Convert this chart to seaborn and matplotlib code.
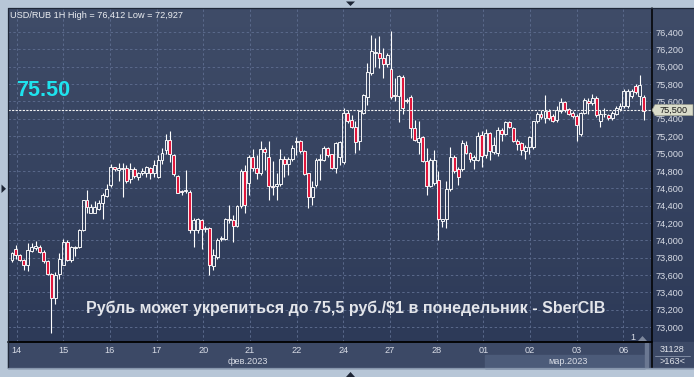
import numpy as np
import matplotlib
matplotlib.use("Agg")
import matplotlib.pyplot as plt
import seaborn as sns
from matplotlib.colors import LinearSegmentedColormap
from matplotlib.patches import Rectangle, Polygon
from matplotlib.lines import Line2D

# ---------------- data ----------------
opens = [73.77, 73.90, 73.83, 73.77, 73.72, 73.88, 73.91, 73.92, 73.87, 73.76,
         73.61, 73.34, 73.61, 73.72, 73.98, 73.77, 73.91, 73.92, 74.12, 74.46,
         74.32, 74.32, 74.36, 74.43, 74.51, 74.64, 74.84, 74.81, 74.83, 74.83,
         74.71, 74.82, 74.73, 74.78, 74.78, 74.83, 74.77, 74.73, 74.93, 75.04,
         75.16, 74.98, 74.74, 74.57, 74.57, 74.56, 74.12, 74.12, 74.23, 74.13,
         74.14, 73.70, 73.81, 74.01, 74.01, 74.24, 74.23, 74.17, 74.39, 74.80,
         74.66, 74.96, 74.83, 74.77, 75.05, 74.96, 74.63, 74.63, 74.65, 74.94,
         74.88, 74.94, 75.13, 75.14, 75.03, 74.77, 74.50, 74.64, 74.92, 74.93,
         75.06, 74.99, 74.83, 74.96, 74.90, 75.47, 75.39, 75.30, 75.14, 75.47,
         75.65, 75.93, 76.16, 76.16, 76.10, 76.03, 75.97, 75.67, 75.66, 75.88,
         75.62, 75.65, 75.29, 75.13, 75.19, 74.91, 74.63, 74.66, 74.70, 74.22,
         74.24, 74.59, 74.96, 74.82, 74.82, 75.10, 75.01, 74.93, 74.93, 75.21,
         74.98, 75.24, 75.02, 75.01, 75.27, 75.23, 75.36, 75.29, 75.15, 75.12,
         75.03, 75.08, 75.08, 75.37, 75.46, 75.41, 75.49, 75.43, 75.39, 75.49,
         75.59, 75.51, 75.47, 75.43, 75.22, 75.47, 75.60, 75.58, 75.64, 75.37,
         75.45, 75.44, 75.41, 75.46, 75.51, 75.55, 75.55, 75.66, 75.78, 75.66,
         75.65]
highs = [73.87, 73.95, 73.84, 73.78, 73.97, 73.97, 73.99, 73.95, 73.89, 73.77,
         73.62, 73.63, 73.85, 74.01, 74.00, 73.93, 73.93, 74.13, 74.47, 74.58,
         74.42, 74.45, 74.46, 74.54, 74.65, 74.88, 74.85, 74.89, 74.89, 74.87,
         74.89, 74.84, 74.79, 74.83, 74.86, 74.85, 74.93, 74.98, 75.06, 75.23,
         75.26, 75.00, 74.75, 74.58, 74.81, 74.58, 74.26, 74.26, 74.25, 74.16,
         74.15, 73.90, 74.03, 74.05, 74.26, 74.41, 74.29, 74.41, 74.82, 74.87,
         74.98, 75.05, 74.98, 75.14, 75.07, 75.14, 74.91, 74.77, 75.05, 74.97,
         74.96, 75.10, 75.19, 75.16, 75.04, 74.78, 74.68, 74.95, 75.00, 75.09,
         75.07, 75.00, 75.13, 75.14, 75.52, 75.50, 75.44, 75.37, 75.50, 75.68,
         76.04, 76.37, 76.33, 76.35, 76.21, 76.16, 76.41, 75.87, 75.91, 75.90,
         75.64, 75.67, 75.39, 75.37, 75.20, 75.06, 74.95, 75.04, 74.80, 74.25,
         74.68, 75.08, 74.98, 74.84, 75.16, 75.14, 75.02, 74.98, 75.25, 75.26,
         75.28, 75.25, 75.19, 75.30, 75.29, 75.37, 75.38, 75.31, 75.17, 75.13,
         75.10, 75.20, 75.38, 75.48, 75.50, 75.67, 75.51, 75.45, 75.55, 75.64,
         75.61, 75.53, 75.49, 75.45, 75.48, 75.64, 75.64, 75.69, 75.66, 75.50,
         75.52, 75.46, 75.49, 75.55, 75.58, 75.74, 75.74, 75.74, 75.80, 75.90,
         75.67]
lows = [73.75, 73.79, 73.76, 73.66, 73.65, 73.87, 73.89, 73.85, 73.74, 73.60,
        72.93, 73.27, 73.56, 73.72, 73.76, 73.75, 73.82, 73.91, 74.11, 74.31,
        74.31, 74.31, 74.35, 74.24, 74.50, 74.62, 74.80, 74.68, 74.50, 74.66,
        74.66, 74.72, 74.70, 74.75, 74.73, 74.71, 74.73, 74.72, 74.88, 75.00,
        74.90, 74.74, 74.54, 74.52, 74.55, 74.09, 73.92, 74.09, 73.90, 74.10,
        73.60, 73.66, 73.79, 73.99, 74.00, 74.20, 73.98, 74.15, 74.37, 74.31,
        74.52, 74.80, 74.71, 74.75, 74.81, 74.46, 74.52, 74.47, 74.63, 74.73,
        74.75, 74.91, 74.98, 75.01, 74.75, 74.37, 74.41, 74.62, 74.70, 74.91,
        74.96, 74.82, 74.77, 74.87, 74.88, 75.35, 75.29, 75.01, 75.04, 75.45,
        75.56, 75.90, 76.00, 75.98, 75.87, 76.00, 75.63, 75.61, 75.36, 75.46,
        75.58, 75.18, 75.14, 75.00, 74.90, 74.52, 74.61, 74.64, 74.00, 74.15,
        74.14, 74.57, 74.78, 74.64, 74.80, 74.99, 74.90, 74.82, 74.91, 74.85,
        74.95, 74.93, 75.00, 74.97, 75.15, 75.21, 75.29, 75.13, 75.04, 74.98,
        74.94, 74.99, 75.05, 75.35, 75.40, 75.35, 75.39, 75.36, 75.36, 75.47,
        75.48, 75.44, 75.41, 75.15, 75.20, 75.45, 75.46, 75.56, 75.42, 75.31,
        75.42, 75.39, 75.39, 75.44, 75.49, 75.53, 75.53, 75.64, 75.69, 75.56,
        75.39]
closes = [73.85, 73.83, 73.77, 73.72, 73.89, 73.92, 73.93, 73.86, 73.76, 73.61,
          73.34, 73.60, 73.79, 73.98, 73.77, 73.92, 73.92, 74.12, 74.46, 74.38,
          74.38, 74.38, 74.43, 74.52, 74.59, 74.85, 74.82, 74.83, 74.82, 74.68,
          74.82, 74.74, 74.77, 74.80, 74.84, 74.78, 74.87, 74.93, 75.01, 75.16,
          75.00, 74.76, 74.55, 74.56, 74.58, 74.12, 74.23, 74.24, 74.13, 74.14,
          73.72, 73.83, 74.00, 74.03, 74.24, 74.23, 74.17, 74.40, 74.80, 74.41,
          74.96, 74.83, 74.77, 75.05, 75.02, 74.63, 74.62, 74.65, 74.94, 74.88,
          74.94, 75.06, 75.14, 75.03, 74.76, 74.50, 74.61, 74.93, 74.94, 75.06,
          74.98, 74.83, 75.12, 75.13, 75.47, 75.37, 75.31, 75.13, 75.49, 75.67,
          75.94, 76.18, 76.17, 76.10, 76.03, 76.14, 75.65, 75.66, 75.89, 75.52,
          75.61, 75.29, 75.16, 75.18, 74.91, 74.63, 74.93, 74.93, 74.24, 74.24,
          74.59, 74.96, 74.80, 74.73, 75.12, 75.01, 74.94, 74.96, 75.20, 74.97,
          75.24, 75.03, 75.10, 75.27, 75.22, 75.36, 75.31, 75.15, 75.11, 75.04,
          75.08, 75.19, 75.37, 75.46, 75.42, 75.49, 75.41, 75.38, 75.50, 75.59,
          75.50, 75.46, 75.43, 75.33, 75.47, 75.62, 75.58, 75.64, 75.44, 75.45,
          75.46, 75.41, 75.47, 75.53, 75.55, 75.72, 75.72, 75.72, 75.71, 75.79,
          75.49]
day_labels = ["14", "15", "16", "17", "20", "21", "22", "24", "27", "28",
              "01", "02", "03", "06"]
y_ticks = [73.0, 73.2, 73.4, 73.6, 73.8, 74.0, 74.2, 74.4, 74.6, 74.8,
           75.0, 75.2, 75.4, 75.6, 75.8, 76.0, 76.2, 76.4]
month_labels = ["фев.2023", "мар.2023"]
header = "USD/RUB 1H High = 76,412 Low = 72,927"
last_price = 75.50
big_label = "75.50"
headline = "Рубль может укрепиться до 75,5 руб./$1 в понедельник - SberCIB"
bar_count = "31128"
bar_visible = ">163<"

# ---------------- styling ----------------
sns.set_theme(style="dark")
plt.rcParams['font.family'] = ['Liberation Sans', 'DejaVu Sans']

W, H = 694, 377
fig = plt.figure(figsize=(W / 100, H / 100), dpi=100)
fig.patch.set_facecolor('#b7c6d7')


def box(x0, y0, x1, y1):
    return [x0 / W, 1 - y1 / H, (x1 - x0) / W, (y1 - y0) / H]


def fx(px):
    return px / W


def fy(py):
    return 1 - py / H


# gradient background behind plot + right axis panel
bg = fig.add_axes(box(8, 8, 694, 342), zorder=0)
cmap = LinearSegmentedColormap.from_list('bg', ['#3f4c68', '#2d3a58'])
bg.imshow(np.linspace(0, 1, 256).reshape(-1, 1), cmap=cmap, aspect='auto',
          extent=[0, 1, 0, 1])
bg.set_axis_off()

# bottom time-axis strip
fig.add_artist(Rectangle((fx(8), fy(368)), fx(694) - fx(8), fy(342) - fy(368),
                         transform=fig.transFigure, color='#3c4966', zorder=0.5))
fig.add_artist(Rectangle((fx(485), fy(368)), fx(645) - fx(485), fy(355) - fy(368),
                         transform=fig.transFigure, color='#4c5b79', zorder=0.6))
fig.add_artist(Rectangle((fx(645), fy(367)), fx(648) - fx(645), fy(343) - fy(367),
                         transform=fig.transFigure, color='#6b7892', zorder=0.6))

ax = fig.add_axes(box(8, 8, 651, 342), zorder=2)
ax.set_facecolor('none')

n = len(closes)
x = np.arange(n)
o = np.array(opens)
c = np.array(closes)
hi = np.array(highs)
lo = np.array(lows)
top = np.maximum(o, c)
bot = np.minimum(o, c)
up = c >= o

# wicks (split so hollow bodies stay hollow)
ax.vlines(x, top, hi, color='white', linewidth=0.8, zorder=3)
ax.vlines(x, lo, bot, color='white', linewidth=0.8, zorder=3)
body_h = np.maximum(top - bot, 0.01)
ax.bar(x[up], body_h[up], bottom=bot[up], width=0.74, color='none',
       edgecolor='white', linewidth=0.65, zorder=4)
ax.bar(x[~up], body_h[~up], bottom=bot[~up], width=0.74, color='#e0173c',
       edgecolor='white', linewidth=0.65, zorder=4)

# axis geometry (pixel layout of the reference)
px0, dpx = 12.0, 3.948
ax.set_xlim((8 - px0) / dpx, (651 - px0) / dpx)
ax.set_ylim(76.4 - (342 - 32) / 86.8, 76.4 + (32 - 8) / 86.8)

day_pos = [(16.6 + 46.67 * k - px0) / dpx for k in range(len(day_labels))]
ax.set_xticks(day_pos)
ax.set_xticklabels(day_labels)
ax.set_yticks(y_ticks)
ax.set_yticklabels([f"{v:.3f}".replace('.', ',') for v in y_ticks])
ax.yaxis.tick_right()
ax.tick_params(axis='y', length=0, pad=3.6, labelsize=6.6, labelcolor='#d8dce6')
ax.tick_params(axis='x', length=0, pad=3.2, labelsize=6.6, labelcolor='#d8dce6')
ax.grid(True, color='#5a698b', linestyle=(0, (2.5, 2.5)), linewidth=0.7)
for s in ax.spines.values():
    s.set_visible(False)

# last price dotted line
ax.axhline(last_price, color='#f2f2f2', linestyle=(0, (2, 1.2)), linewidth=0.8,
           zorder=5)

# frame lines
fig.add_artist(Line2D([fx(651.5), fx(651.5)], [fy(8), fy(368)], color='black',
                      linewidth=1.1, zorder=6))
fig.add_artist(Line2D([fx(8), fx(651.5)], [fy(342), fy(342)], color='black',
                      linewidth=1.3, zorder=6))
fig.add_artist(Line2D([fx(7.5), fx(7.5)], [fy(8), fy(368)], color='#1f2738',
                      linewidth=0.9, zorder=6))
fig.add_artist(Line2D([fx(7.5), fx(694)], [fy(7.8), fy(7.8)], color='#1f2738',
                      linewidth=0.9, zorder=6))
fig.add_artist(Line2D([fx(7.5), fx(694)], [fy(368.3), fy(368.3)], color='#8796ad',
                      linewidth=0.9, zorder=6))

# price label box on the right axis
py = 32 + (76.4 - last_price) * 86.8
fig.add_artist(Polygon([(fx(652), fy(py)), (fx(655), fy(py - 5.5)), (fx(693), fy(py - 5.5)),
                        (fx(693), fy(py + 5.5)), (fx(655), fy(py + 5.5))],
                       closed=True, transform=fig.transFigure, facecolor='#dadcca',
                       edgecolor='#9a9c8c', linewidth=0.5, zorder=7))
fig.text(fx(674), fy(py), f"{last_price:.3f}".replace('.', ','), ha='center',
         va='center', fontsize=6.6, color='#1a1a1a', zorder=8)

# texts
fig.text(fx(10), fy(17.5), header, ha='left', va='baseline', fontsize=6.6,
         color='#eceef2', zorder=8)
fig.text(fx(16), fy(96), big_label, ha='left', va='baseline', fontsize=15.5,
         weight='bold', color='#1ee3ee', zorder=8)
fig.text(fx(86), fy(313), headline, ha='left', va='baseline', fontsize=11.5,
         weight='bold', color='#e3e5ea', zorder=8)
fig.text(fx(248), fy(362), month_labels[0], ha='center', va='center', fontsize=6.6,
         color='#d8dce6', zorder=8)
fig.text(fx(568), fy(362), month_labels[1], ha='center', va='center', fontsize=6.6,
         color='#d8dce6', zorder=8)
fig.text(fx(672), fy(349.5), bar_count, ha='center', va='center', fontsize=6.6,
         color='#e0e3ea', zorder=8)
fig.add_artist(Line2D([fx(655), fx(690)], [fy(355.5), fy(355.5)], color='#8a96ad',
                      linewidth=0.6, zorder=8))
fig.text(fx(672), fy(362), bar_visible, ha='center', va='center', fontsize=6.6,
         color='#e0e3ea', zorder=8)
fig.text(fx(633), fy(337.5), "1", ha='center', va='center', fontsize=6.6,
         color='#d8dce6', zorder=8)
fig.add_artist(Polygon([(fx(638), fy(341)), (fx(647), fy(341)), (fx(642.5), fy(336))],
                       closed=True, transform=fig.transFigure, facecolor='#7d879c',
                       edgecolor='none', zorder=8))

# small navigation triangles in the outer frame
tri_col = '#1d2535'
fig.add_artist(Polygon([(fx(346), fy(1.5)), (fx(355), fy(1.5)), (fx(350.5), fy(6))],
                       closed=True, transform=fig.transFigure, facecolor=tri_col,
                       edgecolor='none', zorder=8))
fig.add_artist(Polygon([(fx(346), fy(377)), (fx(355), fy(377)), (fx(350.5), fy(372))],
                       closed=True, transform=fig.transFigure, facecolor=tri_col,
                       edgecolor='none', zorder=8))
fig.add_artist(Polygon([(fx(1.5), fy(184.5)), (fx(1.5), fy(193)), (fx(6), fy(188.8))],
                       closed=True, transform=fig.transFigure, facecolor=tri_col,
                       edgecolor='none', zorder=8))

fig.savefig("out.png", dpi=100, facecolor=fig.get_facecolor())
